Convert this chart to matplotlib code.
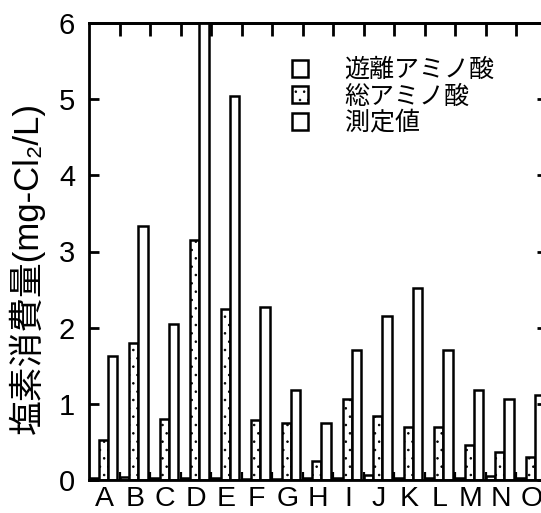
import numpy as np
import matplotlib
matplotlib.use("Agg")
import matplotlib.pyplot as plt

plt.rcParams['font.family'] = ['Liberation Sans', 'Noto Sans CJK JP', 'DejaVu Sans']
plt.rcParams['hatch.linewidth'] = 0.6

categories = list("ABCDEFGHIJKLMNO")
free_aa = [0.03, 0.04, 0.03, 0.02, 0.02, 0.01, 0.01, 0.02, 0.03, 0.06, 0.02, 0.02, 0.03, 0.05, 0.02]
total_aa = [0.52, 1.80, 0.80, 3.15, 2.24, 0.79, 0.75, 0.25, 1.06, 0.84, 0.70, 0.70, 0.46, 0.37, 0.30]
measured = [1.63, 3.33, 2.05, 6.30, 5.04, 2.27, 1.18, 0.75, 1.71, 2.15, 2.52, 1.71, 1.18, 1.06, 1.12]
series_labels = ["遊離アミノ酸", "総アミノ酸", "測定値"]
ylabel = "塩素消費量(mg-Cl₂/L)"

W, H = 541, 513
fig = plt.figure(figsize=(W / 100, H / 100), dpi=100)
ax = fig.add_axes([89 / W, 33 / H, (546.5 - 89) / W, (480 - 23) / H])

x = np.arange(len(categories))
bw = 0.3
ew = 1.8
b1 = ax.bar(x - 0.33, free_aa, bw, facecolor='white', edgecolor='black', linewidth=ew)
b2 = ax.bar(x - 0.03, total_aa, bw, facecolor='white', edgecolor='black', linewidth=ew, hatch='..')
b3 = ax.bar(x + 0.27, measured, bw, facecolor='white', edgecolor='black', linewidth=ew)

ax.set_xlim(-0.5, len(categories) - 0.5)
ax.set_ylim(0, 6)
ax.set_yticks(range(0, 7))
ax.set_xticks(x)
ax.set_xticklabels(categories, fontsize=20.5)
ax.set_xticks(np.arange(len(categories) - 1) + 0.5, minor=True)
ax.tick_params(axis='x', which='major', length=0, pad=4)
ax.tick_params(axis='x', which='minor', direction='in', length=6, width=1.6, bottom=True)
ax.tick_params(axis='y', which='major', direction='in', length=7, width=2.0,
               left=True, right=True, labelsize=21, pad=10)
for s in ax.spines.values():
    s.set_linewidth(2.0)

top = ax.secondary_xaxis('top')
top.set_xticks(np.arange(len(categories) - 1) + 0.5)
top.tick_params(direction='in', length=9, width=2.0, labeltop=False)
top.set_xticklabels([])
top.spines['top'].set_linewidth(2.0)

fig.text(27 / W, 1 - 268 / H, ylabel, rotation=90, ha='center', va='center', fontsize=25)

leg = ax.legend([b1, b2, b3], series_labels, loc='upper left',
                bbox_to_anchor=(292 / W, 1 - 58 / H), bbox_transform=fig.transFigure,
                frameon=False, fontsize=18, handlelength=0.65, handleheight=0.65,
                handletextpad=1.45, labelspacing=0.1, borderpad=0, borderaxespad=0)

fig.savefig("out.png", dpi=100)
